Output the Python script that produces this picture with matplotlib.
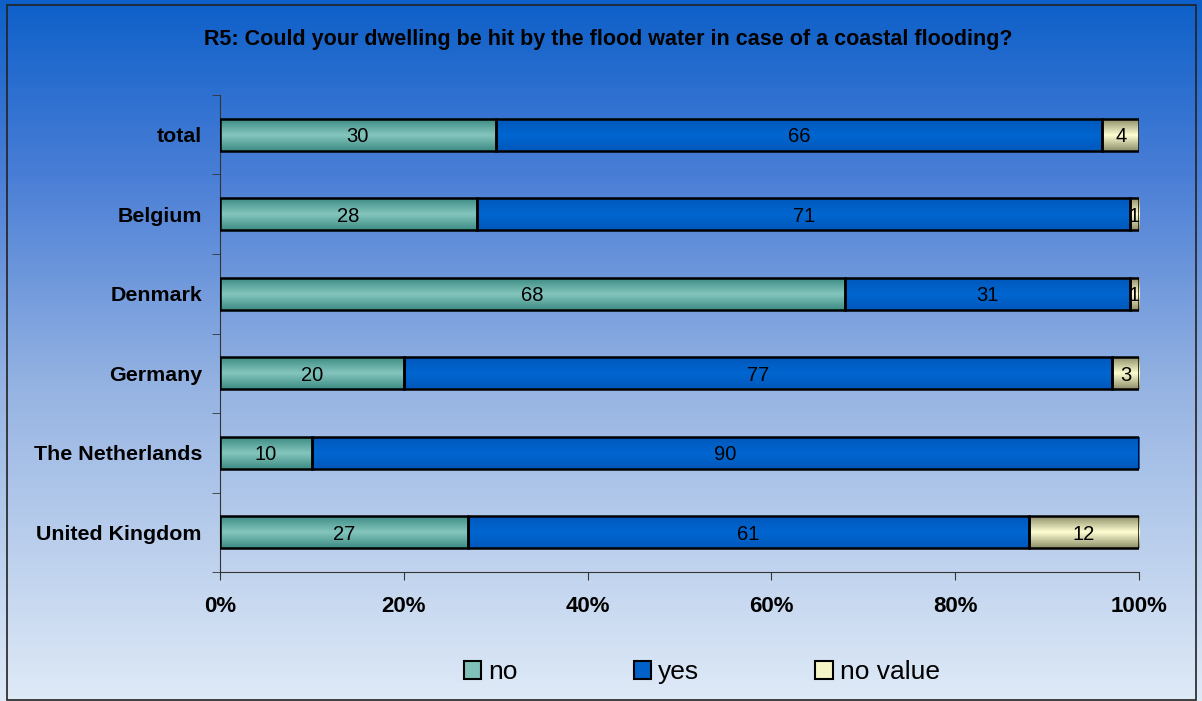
import numpy as np
import matplotlib.pyplot as plt
from matplotlib.colors import LinearSegmentedColormap
from matplotlib.patches import Rectangle

plt.rcParams['font.family'] = ['Liberation Sans', 'DejaVu Sans']

title = "R5: Could your dwelling be hit by the flood water in case of a coastal flooding?"
countries = ['total', 'Belgium', 'Denmark', 'Germany', 'The Netherlands', 'United Kingdom']
no_vals = [30, 28, 68, 20, 10, 27]
yes_vals = [66, 71, 31, 77, 90, 61]
novalue_vals = [4, 1, 1, 3, 0, 12]
series_names = ['no', 'yes', 'no value']

fig = plt.figure(figsize=(12.02, 7.01), dpi=100)

# background gradient
bg = fig.add_axes([0, 0, 1, 1], zorder=0)
bg_cmap = LinearSegmentedColormap.from_list(
    'bg', [(0, '#0d60c9'), (0.25, '#4a7ed6'), (0.55, '#95b3e2'), (1.0, '#dfeaf7')])
bg.imshow(np.linspace(0, 1, 256).reshape(-1, 1), aspect='auto', cmap=bg_cmap,
          extent=[0, 1, 0, 1], origin='upper')
bg.add_patch(Rectangle((0.006, 0.002), 0.989, 0.991, fill=False, ec='#222222', lw=1.2))
bg.set_xlim(0, 1)
bg.set_ylim(0, 1)
bg.axis('off')

ax = fig.add_axes([0.183, 0.184, 0.7647, 0.6805], zorder=1)
ax.patch.set_alpha(0)

y = np.arange(len(countries))
h = 0.4

cmaps = {
    'no': LinearSegmentedColormap.from_list('no', ['#3d8c84', '#84c6be', '#3d8c84']),
    'yes': LinearSegmentedColormap.from_list('yes', ['#0058bc', '#0066d0', '#0058bc']),
    'no value': LinearSegmentedColormap.from_list('nv', ['#8e8e6a', '#ffffd2', '#8e8e6a']),
}
face = {'no': '#80c0b8', 'yes': '#0062c8', 'no value': '#f5f5c8'}

grad = np.linspace(0, 1, 64).reshape(-1, 1)
left = np.zeros(len(countries))
for name, vals in zip(series_names, [no_vals, yes_vals, novalue_vals]):
    vals = np.array(vals)
    bars = ax.barh(y, vals, left=left, height=h, color=face[name], edgecolor='black',
                   linewidth=1.8, zorder=3)
    for b, v in zip(bars, vals):
        if v == 0:
            continue
        x0, y0 = b.get_x(), b.get_y()
        im = ax.imshow(grad, aspect='auto', cmap=cmaps[name], zorder=2.5,
                       extent=[x0, x0 + b.get_width(), y0, y0 + b.get_height()])
        im.set_clip_path(b)
        b.set_facecolor('none')
        ax.text(x0 + b.get_width() / 2, b.get_y() + b.get_height() / 2, str(v),
                ha='center', va='center_baseline', fontsize=14.5, zorder=4)
    left = left + vals

ax.set_xlim(0, 100)
ax.set_ylim(len(countries) - 0.5, -0.5)
ax.set_xticks(np.arange(0, 101, 20))
ax.set_xticklabels([f'{v}%' for v in range(0, 101, 20)], fontsize=16, fontweight='bold')
ax.set_yticks(y)
ax.set_yticklabels(countries, fontsize=15.4, fontweight='bold')
ax.tick_params(axis='y', length=0, pad=13)
ax.set_yticks(np.arange(-0.5, len(countries), 1), minor=True)
ax.tick_params(axis='y', which='minor', length=6, color='#333333')
ax.tick_params(axis='x', length=6, color='#333333', pad=11)
for s in ['top', 'right']:
    ax.spines[s].set_visible(False)
for s in ['left', 'bottom']:
    ax.spines[s].set_color('#333333')

fig.text(0.506, 0.943, title, ha='center', va='center', fontsize=15.5, fontweight='bold')

handles = [Rectangle((0, 0), 1, 1, fc=face[n], ec='black', lw=1.5) for n in series_names]
fig.legend(handles, series_names, loc='center', bbox_to_anchor=(0.584, 0.041), ncol=3,
           frameon=False, fontsize=19, handlelength=0.65, handleheight=0.65,
           handletextpad=0.27, columnspacing=4.4)

fig.savefig('out.png', dpi=100)
